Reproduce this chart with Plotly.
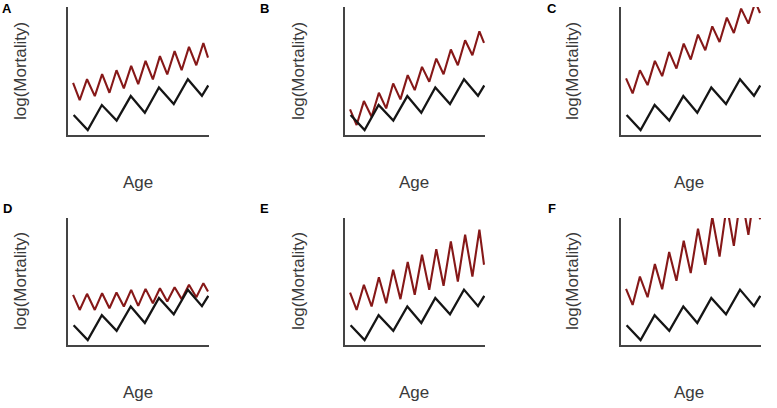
import plotly.graph_objects as go

# ---- data (normalised Age 0-100, log(Mortality) 0-100) ----
age_black = [4, 14, 24, 34.5, 44.5, 54.5, 64.5, 75, 85, 95, 99.5]
black_line = [15.6, 3.9, 23.4, 11.2, 30.4, 17.4, 37.1, 24.2, 43.6, 30.6, 38.7]

age_red = [3.6, 8.3, 13.5, 19.0, 24.2, 29.4, 34.4, 39.6, 44.8, 49.8,
           55.0, 60.2, 65.2, 70.4, 75.6, 80.6, 85.8, 91.0, 96.0, 99.3]

red_A = [40.8, 27.3, 43.6, 30.4, 47.5, 33.0, 50.6, 36.4, 54.0, 39.7,
         57.9, 43.4, 61.6, 47.3, 65.5, 50.6, 68.8, 54.5, 71.9, 60.5]
red_B = [20.0, 7.8, 26.5, 14.3, 33.0, 20.8, 40.3, 27.8, 46.8, 35.1,
         53.2, 41.6, 59.7, 47.5, 66.8, 54.5, 74.0, 62.3, 81.0, 71.9]
red_C = [44.2, 32.5, 50.6, 39.0, 57.9, 46.0, 64.9, 51.9, 71.4, 59.0,
         78.4, 66.2, 84.9, 72.7, 91.7, 79.7, 98.7, 87.0, 104.0, 95.3]
red_D = [39.5, 27.6, 40.3, 27.6, 40.8, 28.9, 41.3, 30.3, 43.4, 30.8,
         44.2, 32.9, 44.7, 34.2, 45.5, 36.1, 47.4, 37.6, 48.7, 42.1]
red_E = [41.3, 27.6, 47.4, 30.3, 53.4, 32.9, 59.2, 36.1, 65.3, 39.5,
         71.1, 43.4, 75.5, 46.6, 81.6, 50.0, 86.8, 53.9, 90.8, 63.2]
red_F = [44.2, 31.6, 53.9, 37.6, 63.7, 43.9, 73.2, 50.5, 82.1, 56.6,
         91.6, 63.2, 100.8, 69.7, 110.0, 78.0, 119.0, 86.8, 126.0, 99.0]

panel_letters = ["A", "B", "C", "D", "E", "F"]
red_series = [red_A, red_B, red_C, red_D, red_E, red_F]
x_title = "Age"
y_title = "log(Mortality)"

# ---- layout geometry (pixels) ----
W, H = 777, 408
col_px = [(68, 209), (345, 485), (621, 761)]
row_px = [(7, 135), (218, 345)]
ylab_x = [20, 298, 572]
age_x = [138, 414, 689]
row_age_y = [182, 392]
row_ylab_y = [71, 281]
letter_x = [7, 264, 552]
row_letter_y = [8, 209]

RED = "#861818"
BLACK = "#151515"
AXIS = "#444444"

def px_x(p):
    return p / W

def px_y(p):
    return 1 - p / H

fig = go.Figure()
layout = dict(
    width=W, height=H,
    margin=dict(l=0, r=0, t=0, b=0),
    paper_bgcolor="white", plot_bgcolor="white",
    showlegend=False,
    font=dict(family="Liberation Sans, Arial, sans-serif"),
)
annotations = []

for i in range(6):
    r, c = divmod(i, 3)
    n = i + 1
    xa = "x" if n == 1 else f"x{n}"
    ya = "y" if n == 1 else f"y{n}"
    xkey = "xaxis" if n == 1 else f"xaxis{n}"
    ykey = "yaxis" if n == 1 else f"yaxis{n}"

    fig.add_trace(go.Scatter(x=age_red, y=red_series[i], mode="lines",
                             line=dict(color=RED, width=2.1),
                             xaxis=xa, yaxis=ya, hoverinfo="skip"))
    fig.add_trace(go.Scatter(x=age_black, y=black_line, mode="lines",
                             line=dict(color=BLACK, width=2.3),
                             xaxis=xa, yaxis=ya, hoverinfo="skip"))

    x0, x1 = col_px[c]
    y0, y1 = row_px[r]
    layout[xkey] = dict(domain=[px_x(x0), px_x(x1)], range=[0, 100],
                        showline=True, linecolor=AXIS, linewidth=2,
                        showgrid=False, zeroline=False, showticklabels=False,
                        ticks="", anchor=ya, fixedrange=True)
    layout[ykey] = dict(domain=[px_y(y1), px_y(y0)], range=[0, 100],
                        showline=True, linecolor=AXIS, linewidth=2,
                        showgrid=False, zeroline=False, showticklabels=False,
                        ticks="", anchor=xa, fixedrange=True)

    annotations.append(dict(text=y_title, x=px_x(ylab_x[c]), y=px_y(row_ylab_y[r]),
                            xref="paper", yref="paper", showarrow=False,
                            textangle=-90, xanchor="center", yanchor="middle",
                            font=dict(size=17, color="#3a3a3a")))
    annotations.append(dict(text=x_title, x=px_x(age_x[c]), y=px_y(row_age_y[r]),
                            xref="paper", yref="paper", showarrow=False,
                            xanchor="center", yanchor="middle",
                            font=dict(size=17, color="#3a3a3a")))
    annotations.append(dict(text=f"<b>{panel_letters[i]}</b>",
                            x=px_x(letter_x[c]), y=px_y(row_letter_y[r]),
                            xref="paper", yref="paper", showarrow=False,
                            xanchor="center", yanchor="middle",
                            font=dict(size=13, color="#000000")))

layout["annotations"] = annotations
fig.update_layout(**layout)
fig.write_html("out.html",
               config={"displayModeBar": False},
               post_script="document.body.style.margin='0';document.body.style.overflow='hidden';")
